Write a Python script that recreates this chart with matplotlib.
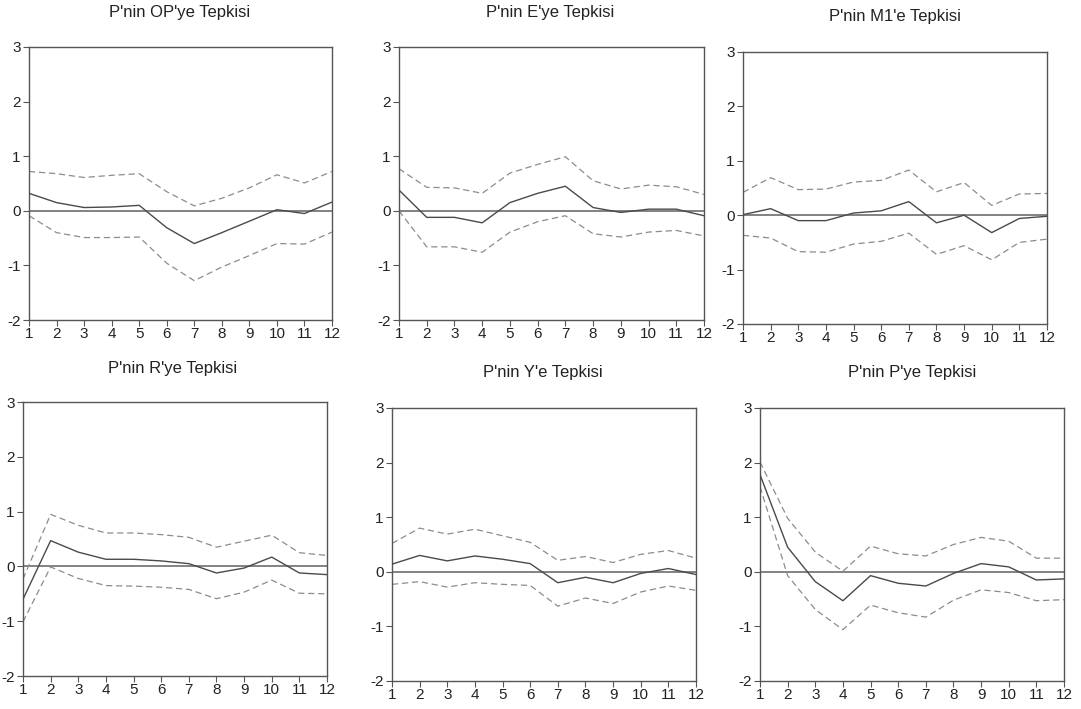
import matplotlib
matplotlib.use("Agg")
import matplotlib.pyplot as plt

periods = list(range(1, 13))

titles = ["P'nin OP'ye Tepkisi", "P'nin E'ye Tepkisi", "P'nin M1'e Tepkisi",
          "P'nin R'ye Tepkisi", "P'nin Y'e Tepkisi", "P'nin P'ye Tepkisi"]

op_resp = [0.32, 0.15, 0.06, 0.07, 0.10, -0.31, -0.60, -0.40, -0.19, 0.02, -0.05, 0.16]
op_upper = [0.72, 0.68, 0.61, 0.65, 0.68, 0.35, 0.09, 0.23, 0.42, 0.66, 0.51, 0.72]
op_lower = [-0.09, -0.40, -0.49, -0.49, -0.48, -0.96, -1.28, -1.03, -0.82, -0.60, -0.61, -0.39]

e_resp = [0.38, -0.12, -0.12, -0.22, 0.15, 0.32, 0.45, 0.06, -0.03, 0.03, 0.03, -0.09]
e_upper = [0.77, 0.43, 0.42, 0.32, 0.69, 0.85, 0.99, 0.55, 0.40, 0.47, 0.44, 0.30]
e_lower = [0.00, -0.66, -0.66, -0.76, -0.39, -0.20, -0.09, -0.42, -0.48, -0.39, -0.36, -0.46]

m1_resp = [0.01, 0.12, -0.10, -0.10, 0.04, 0.08, 0.25, -0.14, 0.00, -0.32, -0.06, -0.02]
m1_upper = [0.42, 0.69, 0.47, 0.48, 0.61, 0.64, 0.83, 0.43, 0.60, 0.18, 0.39, 0.40]
m1_lower = [-0.37, -0.42, -0.67, -0.68, -0.53, -0.48, -0.33, -0.72, -0.56, -0.82, -0.50, -0.44]

r_resp = [-0.60, 0.47, 0.26, 0.13, 0.13, 0.10, 0.05, -0.12, -0.03, 0.17, -0.12, -0.15]
r_upper = [-0.23, 0.95, 0.75, 0.61, 0.61, 0.58, 0.53, 0.35, 0.46, 0.57, 0.25, 0.20]
r_lower = [-1.01, -0.01, -0.22, -0.35, -0.36, -0.38, -0.42, -0.59, -0.47, -0.25, -0.49, -0.50]

y_resp = [0.14, 0.30, 0.20, 0.29, 0.23, 0.15, -0.20, -0.10, -0.20, -0.03, 0.06, -0.05]
y_upper = [0.52, 0.80, 0.69, 0.78, 0.66, 0.54, 0.21, 0.28, 0.17, 0.32, 0.39, 0.25]
y_lower = [-0.23, -0.18, -0.28, -0.20, -0.23, -0.25, -0.63, -0.48, -0.58, -0.37, -0.26, -0.34]

p_resp = [1.78, 0.45, -0.18, -0.53, -0.07, -0.21, -0.26, -0.03, 0.15, 0.09, -0.15, -0.13]
p_upper = [2.01, 0.98, 0.36, 0.01, 0.47, 0.33, 0.29, 0.50, 0.63, 0.56, 0.25, 0.25]
p_lower = [1.56, -0.07, -0.69, -1.06, -0.61, -0.75, -0.83, -0.52, -0.33, -0.38, -0.53, -0.51]

series = [(op_resp, op_upper, op_lower), (e_resp, e_upper, e_lower),
          (m1_resp, m1_upper, m1_lower), (r_resp, r_upper, r_lower),
          (y_resp, y_upper, y_lower), (p_resp, p_upper, p_lower)]

y_ticks = [-2, -1, 0, 1, 2, 3]

plt.rcParams['font.family'] = ['Liberation Sans', 'DejaVu Sans']

W, H = 1081, 709
fig = plt.figure(figsize=(W / 100, H / 100), dpi=100)

# axes boxes in pixels: left, right, top, bottom
boxes = [(29, 332, 47, 320), (399, 704, 47, 320), (743, 1047, 52, 324),
         (23, 327, 402, 676), (392, 696, 408, 681), (760, 1064, 408, 681)]
title_pos = [(180, 12), (550, 12), (895, 17), (173, 368), (543, 372), (912, 373)]

dark = '#4a4a4a'
band = '#8c8c8c'
for i, (l, r, t, b) in enumerate(boxes):
    ax = fig.add_axes([l / W, 1 - b / H, (r - l) / W, (b - t) / H])
    resp, up, lo = series[i]
    ax.axhline(0, color='#606060', lw=1.1, zorder=1)
    ax.plot(periods, up, color=band, lw=0.9, dashes=(5, 3), zorder=2)
    ax.plot(periods, lo, color=band, lw=0.9, dashes=(5, 3), zorder=2)
    ax.plot(periods, resp, color=dark, lw=1.0, zorder=3)
    ax.set_xlim(1, 12)
    ax.set_ylim(-2, 3)
    ax.set_xticks(periods)
    ax.set_yticks(y_ticks)
    ax.set_xticklabels([str(p) for p in periods])
    ax.set_yticklabels([str(v) for v in y_ticks])
    ax.tick_params(direction='out', length=4, width=0.8, color='#555555',
                   labelsize=11, labelcolor='#222222', pad=1)
    ax.tick_params(axis='y', pad=2)
    for s in ax.spines.values():
        s.set_color('#555555')
        s.set_linewidth(1.0)
    tx, ty = title_pos[i]
    fig.text(tx / W, 1 - ty / H, titles[i], ha='center', va='center',
             fontsize=12, color='#222222')

fig.savefig('out.png', dpi=100)
